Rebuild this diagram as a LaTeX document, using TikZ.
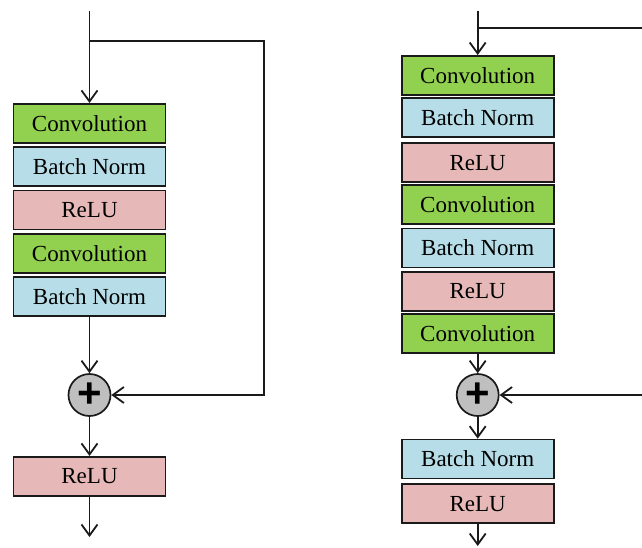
\documentclass[tikz,border=0pt]{standalone}
\usepackage{fontspec}
\setmainfont{Liberation Serif}
\newfontfamily\plusfont{Liberation Sans}
\usetikzlibrary{arrows.meta}
\definecolor{convc}{HTML}{92D050}
\definecolor{bnc}{HTML}{B7DEE8}
\definecolor{reluc}{HTML}{E6B9B8}
\definecolor{sumc}{HTML}{BFBFBF}
\definecolor{edgec}{HTML}{1A1A1A}
\tikzset{
  x=1pt, y=-1pt,
  layer/.style={draw=edgec, line width=1.7pt, minimum width=152pt, minimum height=39pt,
    inner sep=0pt, font=\fontsize{23}{23}\selectfont},
  conv/.style={layer, fill=convc},
  bn/.style={layer, fill=bnc},
  relu/.style={layer, fill=reluc},
  sum/.style={circle, draw=edgec, line width=1.7pt, fill=sumc, minimum size=42pt, inner sep=0pt,
    font=\plusfont\bfseries\fontsize{42}{42}\selectfont},
  conn/.style={line width=1.8pt, draw=edgec},
  arr/.style={conn, -{Straight Barb[length=11pt, width=16pt, line width=1.8pt]}},
}
\begin{document}
\begin{tikzpicture}
\useasboundingbox (0,0) rectangle (642,547);
% left block
\node[conv] (l1) at (89.5,123.3) {Convolution};
\node[bn]   (l2) at (89.5,166.6) {Batch Norm};
\node[relu] (l3) at (89.5,209.9) {ReLU};
\node[conv] (l4) at (89.5,253.2) {Convolution};
\node[bn]   (l5) at (89.5,296.7) {Batch Norm};
\node[sum]  (ls) at (89.5,395) {+};
\node[relu] (l6) at (89.5,476.3) {ReLU};
\coordinate (lin) at (89.5,10.7);
\coordinate (lbr) at (89.5,40.7);
\coordinate (lc1) at (264.3,40.7);
\coordinate (lc2) at (264.3,395);
\coordinate (lout) at (89.5,537);
\draw[arr] (lin) -- (l1.north);
\draw[arr] (lbr) -- (lc1) -- (lc2) -- (ls.east);
\draw[arr] (l5.south) -- (ls.north);
\draw[arr] (ls.south) -- (l6.north);
\draw[arr] (l6.south) -- (lout);
% right block
\node[conv] (r1) at (477.7,75.4) {Convolution};
\node[bn]   (r2) at (477.7,117.4) {Batch Norm};
\node[relu] (r3) at (477.7,162.7) {ReLU};
\node[conv] (r4) at (477.7,204.7) {Convolution};
\node[bn]   (r5) at (477.7,248) {Batch Norm};
\node[relu] (r6) at (477.7,291.4) {ReLU};
\node[conv] (r7) at (477.7,333.4) {Convolution};
\node[sum]  (rs) at (477.7,395) {+};
\node[bn]   (r8) at (477.7,459) {Batch Norm};
\node[relu] (r9) at (477.7,503.7) {ReLU};
\coordinate (rin) at (477.7,10.7);
\coordinate (rbr) at (477.7,28.3);
\coordinate (rc1) at (642,28.3);
\coordinate (rc2) at (642,395);
\coordinate (rout) at (477.7,546);
\draw[arr] (rin) -- (r1.north);
\draw[conn] (rbr) -- (rc1);
\draw[arr] (rc2) -- (rs.east);
\draw[arr] (r7.south) -- (rs.north);
\draw[arr] (rs.south) -- (r8.north);
\draw[arr] (r9.south) -- (rout);
\end{tikzpicture}
\end{document}
